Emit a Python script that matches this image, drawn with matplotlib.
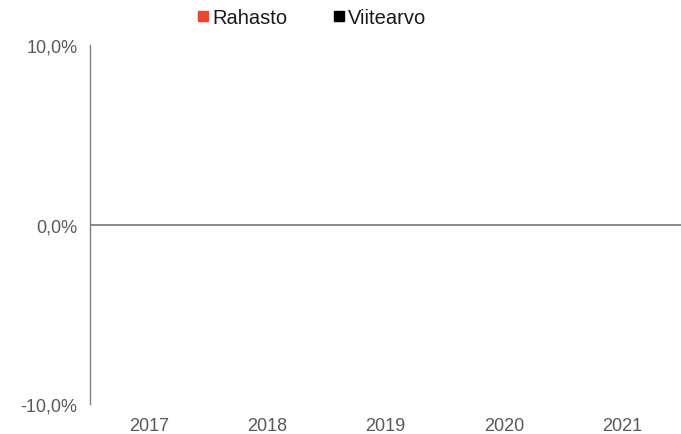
import numpy as np
import matplotlib.pyplot as plt
from matplotlib.lines import Line2D

plt.rcParams['font.family'] = ['Liberation Sans', 'DejaVu Sans']

years = ['2017', '2018', '2019', '2020', '2021']
rahasto = [np.nan, np.nan, np.nan, np.nan, np.nan]
viitearvo = [np.nan, np.nan, np.nan, np.nan, np.nan]
yticks = [-10, 0, 10]
ytick_labels = ['-10,0%', '0,0%', '10,0%']

fig = plt.figure(figsize=(6.81, 4.35), dpi=100)
ax = fig.add_axes([0.1322, 0.069, 0.868, 0.825])

x = np.arange(len(years))
w = 0.35
ax.bar(x - w / 2, rahasto, w, color='#f0442c')
ax.bar(x + w / 2, viitearvo, w, color='#000000')

ax.set_xlim(-0.5, len(years) - 0.5)
ax.set_ylim(-10, 10)
ax.axhline(0, color='#7f7f7f', lw=1.3)

ax.set_xticks(x)
ax.set_xticklabels(years)
ax.set_yticks(yticks)
ax.set_yticklabels(ytick_labels)
ax.tick_params(axis='both', length=0, labelsize=13, labelcolor='#595959')
ax.tick_params(axis='x', pad=9.5)
ax.tick_params(axis='y', pad=9)

for s in ['top', 'right', 'bottom']:
    ax.spines[s].set_visible(False)
ax.spines['left'].set_color('#7f7f7f')
ax.spines['left'].set_linewidth(1.0)

handles = [Line2D([], [], marker='s', ls='', color='#f0442c', markersize=7),
           Line2D([], [], marker='s', ls='', color='#000000', markersize=7)]
fig.legend(handles, ['Rahasto', 'Viitearvo'], loc='upper center',
           bbox_to_anchor=(0.455, 1.02), ncol=2, frameon=False, fontsize=14.5,
           handletextpad=0.0, columnspacing=2.1, handlelength=0.9,
           labelcolor='#1a1a1a')

fig.savefig('out.png', dpi=100)
